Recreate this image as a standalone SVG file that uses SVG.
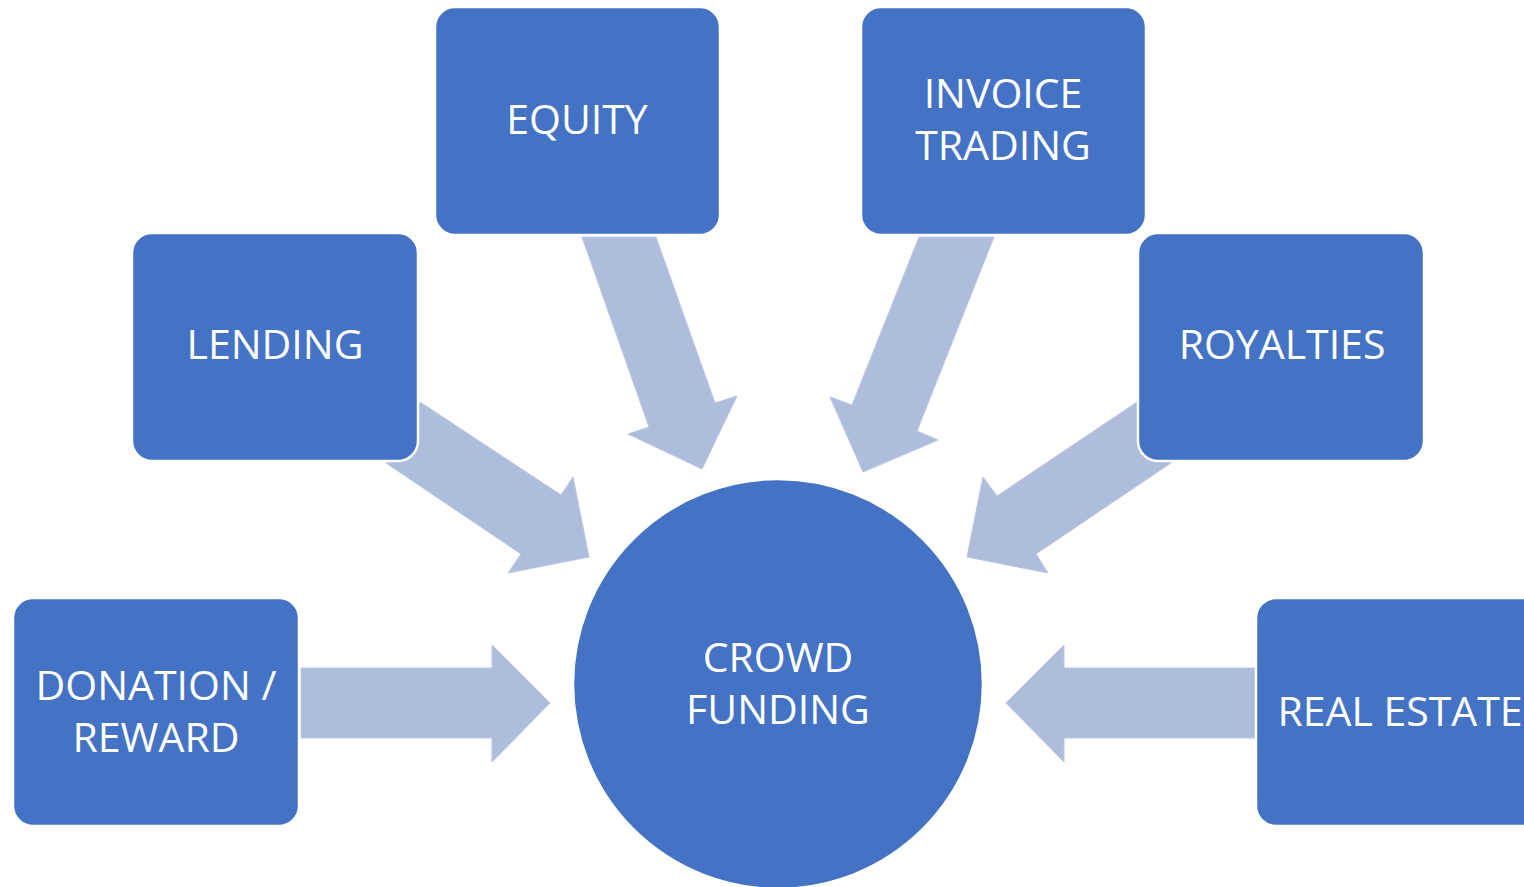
<svg xmlns="http://www.w3.org/2000/svg" width="1524" height="887" viewBox="0 0 1524 887">
<style>
.box{fill:#4472C4;stroke:#FFFFFF;stroke-width:2.5}
.arr{fill:#AFBDDD;stroke:#B9C5E2;stroke-width:1}
.lbl{fill:#FFFFFF;font-family:"Open Sans","Noto Sans","Liberation Sans",sans-serif;font-size:41px;text-anchor:middle}
</style>
<rect width="1524" height="887" fill="#FFFFFF"/>
<g id="connectors">
<polygon class="arr" points="420,402 386,463 521,554 508,573 589,557 573,477 561,495"/>
<polygon class="arr" points="582,237 656,237 715,403 737,396 702,469 628,434 649,427"/>
<polygon class="arr" points="919,237 994,237 917,431 938,440 863,472 830,397 852,405"/>
<polygon class="arr" points="1137,402 1171,463 1036,554 1048,573 967,557 983,477 997,496"/>
<polygon class="arr" points="301,668 492,668 492,645 550,703 492,762 492,738 301,738"/>
<polygon class="arr" points="1256,668 1064,668 1064,645 1006,703 1064,762 1064,738 1256,738"/>
</g>
<g id="node-equity">
<rect class="box" x="435" y="7" width="285" height="228" rx="20"/>
<text class="lbl" x="577" y="134">EQUITY</text>
</g>
<g id="node-invoice">
<rect class="box" x="861" y="7" width="285" height="228" rx="20"/>
<text class="lbl" x="1003" y="108">INVOICE</text>
<text class="lbl" x="1003" y="160">TRADING</text>
</g>
<g id="node-lending">
<rect class="box" x="132" y="233" width="286" height="228" rx="20"/>
<text class="lbl" x="275" y="359">LENDING</text>
</g>
<g id="node-royalties">
<rect class="box" x="1138" y="233" width="286" height="228" rx="20"/>
<text class="lbl" x="1282" y="359">ROYALTIES</text>
</g>
<g id="node-donation">
<rect class="box" x="13" y="598" width="286" height="228" rx="20"/>
<text class="lbl" x="156" y="700">DONATION /</text>
<text class="lbl" x="156" y="752">REWARD</text>
</g>
<g id="node-realestate">
<rect class="box" x="1256" y="598" width="290" height="228" rx="20"/>
<text class="lbl" x="1400" y="726">REAL ESTATE</text>
</g>
<g id="node-crowdfunding">
<circle class="box" cx="778" cy="684" r="205"/>
<text class="lbl" x="778" y="672">CROWD</text>
<text class="lbl" x="778" y="724">FUNDING</text>
</g>
</svg>
